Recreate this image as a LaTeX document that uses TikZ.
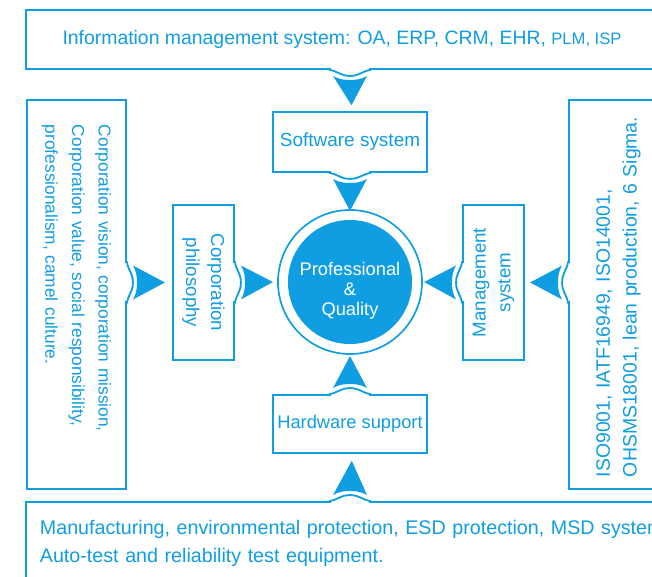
\documentclass[tikz,border=0pt]{standalone}
\usepackage{fontspec}
\setmainfont{Liberation Sans}
\usetikzlibrary{positioning}
\usetikzlibrary{calc}
\definecolor{qb}{RGB}{16,158,226}
\def\pix{0.025cm}
\tikzset{
	box/.style={draw=qb,line width=1.3pt,rectangle,fill=white,text=qb,inner sep=0pt},
}
\newcommand{\link}[3]{\begin{scope}[shift={(#1)},rotate=#3]
	\draw[white,line width=2.5pt] (0,-19) -- (0,19);
	\draw[qb,line width=1.3pt] (0,-21) .. controls (1,-12) and (6,-10) .. (6,0) .. controls (6,10) and (1,12) .. (0,21);
	\fill[qb] (6,-17) .. controls (10,-10) and (10,-5) .. (10,0) .. controls (10,5) and (10,10) .. (6,17) -- ($(#1)!0.95cm!(#2)$) -- cycle;
	\end{scope}}

\begin{document}
\begin{tikzpicture}[x=\pix,y=-\pix]
\useasboundingbox (0,0) rectangle (652,577);
\clip (0,0) rectangle (652,577);

\node[box,minimum width=632*\pix,minimum height=59*\pix,font=\fontsize{13.8}{16}\selectfont] (info) at (342,39.5) {Information management system: OA, ERP, CRM, EHR, {\fontsize{11.8}{14}\selectfont PLM, ISP}};
\node[box,minimum width=154*\pix,minimum height=60*\pix,font=\fontsize{13.5}{16}\selectfont] (soft) at (350,142) {Software system};
\node[circle,draw=qb,line width=1.2pt,fill=white,minimum size=144*\pix,inner sep=0pt,text=white,align=center,text height=51pt,font=\fontsize{13}{14.5}\selectfont,
	path picture={\fill[qb] (path picture bounding box.center) circle (1.55cm);}] (core) at (350,282) {Professional\\\&\\Quality};
\node[box,minimum width=154*\pix,minimum height=58*\pix,font=\fontsize{13}{16}\selectfont] (hard) at (350,424) {Hardware support};
\node[box,minimum width=632*\pix,minimum height=82*\pix,text width=15.1cm,align=left,font=\fontsize{14}{20}\selectfont] (make) at (342,543) {\mbox{Manufacturing, environmental protection, ESD protection, MSD system}\\Auto-test and reliability test equipment.};

\node[box,rotate=-90,minimum width=389*\pix,minimum height=99*\pix,text width=8.475cm,align=left,font=\fontsize{12.3}{19}\selectfont] (vision) at (76.5,294.5) {Corporation vision, corporation mission,\\Corporation value, social responsibility,\\professionalism, camel culture.};
\node[box,rotate=-90,minimum width=155*\pix,minimum height=61*\pix,align=center,font=\fontsize{13.3}{17.7}\selectfont] (philo) at (203.5,282.5) {Corporation\\philosophy};
\node[box,rotate=90,minimum width=155*\pix,minimum height=61*\pix,align=center,font=\fontsize{13.3}{17.7}\selectfont] (mgmt) at (493.5,282.5) {Management\\system};
\node[box,rotate=90,minimum width=389*\pix,minimum height=99*\pix,text width=9.125cm,align=left,font=\fontsize{13.8}{19}\selectfont] (iso) at (618.5,294.5) {ISO9001, IATF16949, ISO14001,\\OHSMS18001, lean production, 6 Sigma.};

\link{info.south -| soft}{soft.north}{-90}
\link{soft.south}{core.north}{-90}
\link{hard.north}{core.south}{90}
\link{make.north -| hard}{hard.south}{90}
\link{vision.north |- philo}{philo.south}{0}
\link{philo.north}{core.west}{0}
\link{iso.north |- mgmt}{mgmt.south}{180}
\link{mgmt.north}{core.east}{180}
\end{tikzpicture}
\end{document}
